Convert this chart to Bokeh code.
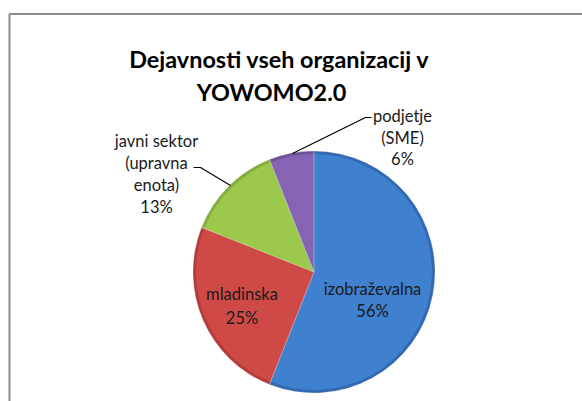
import math
from bokeh.plotting import figure
from bokeh.models import Range1d
from bokeh.core.properties import value
from bokeh.embed import file_html
from bokeh.resources import INLINE

# ---- data ----
categories = ["izobraževalna", "mladinska", "javni sektor (upravna enota)", "podjetje (SME)"]
shares = [56, 25, 13, 6]
colors = ["#3f80cf", "#cf4a46", "#9cc84c", "#8763b3"]
edge_colors = ["#3369b0", "#b23d3a", "#84ad3f", "#6e5296"]
title_lines = ["Dejavnosti vseh organizacij v", "YOWOMO2.0"]

W, H = 582, 401
p = figure(width=W, height=H, output_backend="svg", toolbar_location=None,
           x_range=Range1d(0, W), y_range=Range1d(0, H), min_border=0)
p.axis.visible = False
p.grid.visible = False
p.outline_line_color = None
p.background_fill_color = "white"
p.border_fill_color = "white"

# chart area border (top and left visible)
p.line([9, 9, W], [0, 387.5, 387.5], line_color="#8c8c8c", line_width=2)

cx, cy, R = 313.5, 129.5, 121
total = sum(shares)
starts, ends = [], []
cum = 0.0
for s in shares:
    a0 = math.pi / 2 - 2 * math.pi * cum / total
    cum += s
    a1 = math.pi / 2 - 2 * math.pi * cum / total
    starts.append(a0)
    ends.append(a1)

# base slices with darker edge ring to mimic bevel
p.wedge(x=[cx] * 4, y=[cy] * 4, radius=R, start_angle=starts, end_angle=ends,
        direction="clock", fill_color=edge_colors, line_color=None)
p.wedge(x=[cx] * 4, y=[cy] * 4, radius=R - 3, start_angle=starts, end_angle=ends,
        direction="clock", fill_color=colors, line_color=None)
p.wedge(x=[cx] * 4, y=[cy] * 4, radius=R, start_angle=starts, end_angle=ends,
        direction="clock", fill_color=None, line_color="#ffffff", line_alpha=0.25, line_width=0.8)

font = value("Lato")
# title
p.text(x=[279, 271], y=[342.7, 309.3], text=title_lines, text_font=font,
       text_font_style="bold", text_font_size="23.4px", text_align="center",
       text_baseline="alphabetic", text_color="#000000")

pct = [f"{s}%" for s in shares]
# labels
lab_x = [372, 372, 241.5, 241.5, 156, 156, 156, 156, 402, 402, 402]
lab_y = [113, 91, 108, 84, 261, 239, 217, 195, 286, 264, 243]
lab_t = ["izobraževalna", pct[0], "mladinska", pct[1],
         "javni sektor", "(upravna", "enota)", pct[2],
         "podjetje", "(SME)", pct[3]]
p.text(x=lab_x, y=lab_y, text=lab_t, text_font=font, text_font_size="16.5px",
       text_align="center", text_baseline="middle", text_color="#1a1a1a")

# leader lines
p.line([371, 365, 292], [284, 284, 248], line_color="#000000", line_width=1.2)
p.line([193, 200, 230], [234, 234, 216], line_color="#000000", line_width=1.2)

open("out.html", "w").write(file_html(p, INLINE))
